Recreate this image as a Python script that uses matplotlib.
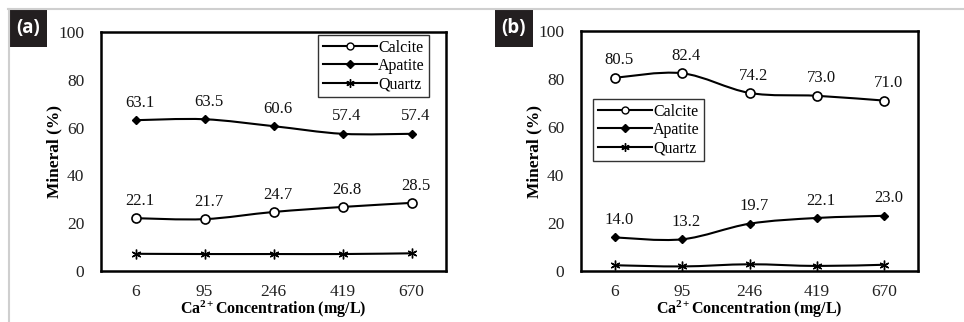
import numpy as np
import matplotlib
matplotlib.use("Agg")
import matplotlib.pyplot as plt
from matplotlib.path import Path
from matplotlib.patches import PathPatch, Rectangle
from matplotlib.lines import Line2D

# ---- data ----
categories = ["6", "95", "246", "419", "670"]
series_names = ["Calcite", "Apatite", "Quartz"]

a_calcite = [22.1, 21.7, 24.7, 26.8, 28.5]
a_apatite = [63.1, 63.5, 60.6, 57.4, 57.4]
a_quartz = [7.2, 7.1, 7.1, 7.1, 7.4]

b_calcite = [80.5, 82.4, 74.2, 73.0, 71.0]
b_apatite = [14.0, 13.2, 19.7, 22.1, 23.0]
b_quartz = [2.4, 1.9, 2.8, 2.1, 2.6]

yticks = [0, 20, 40, 60, 80, 100]
panel_labels = ["(a)", "(b)"]

plt.rcParams["mathtext.fontset"] = "custom"
plt.rcParams["mathtext.rm"] = "Liberation Serif"
plt.rcParams["mathtext.it"] = "Liberation Serif:italic"
plt.rcParams["mathtext.bf"] = "Liberation Serif:bold"

W, H = 964, 322
fig = plt.figure(figsize=(W / 100, H / 100), dpi=100)
fig.patch.set_facecolor("white")

SERIF = ["Liberation Serif", "DejaVu Serif"]


def px_axes(l, t, r, b):
    return fig.add_axes([l / W, 1 - b / H, (r - l) / W, (b - t) / H])


def smooth_path(xs, ys):
    pts = np.column_stack([xs, ys]).astype(float)
    n = len(pts)
    ext = np.vstack([pts[0], pts, pts[-1]])
    verts = [pts[0]]
    codes = [Path.MOVETO]
    for i in range(n - 1):
        p0, p1, p2, p3 = ext[i], ext[i + 1], ext[i + 2], ext[i + 3]
        c1 = p1 + (p2 - p0) / 6.0
        c2 = p2 - (p3 - p1) / 6.0
        verts += [c1, c2, p2]
        codes += [Path.CURVE4] * 3
    return Path(verts, codes)


def draw_series(ax, vals, marker, mfc, ms, mew, label_vals=True):
    x = np.arange(len(vals))
    ax.add_patch(PathPatch(smooth_path(x, vals), fill=False, edgecolor="black",
                           lw=1.5, zorder=3))
    ax.plot(x, vals, linestyle="none", marker=marker, markerfacecolor=mfc,
            markeredgecolor="black", markersize=ms, markeredgewidth=mew, zorder=4)
    if label_vals:
        for xi, v in zip(x, vals):
            ax.annotate(f"{v:.1f}", (xi, v), xytext=(3, 12.5), textcoords="offset points",
                        ha="center", va="center", fontsize=12, family=SERIF,
                        color="#111111")


def setup(ax, loc_bbox):
    ax.set_xlim(-0.5, len(categories) - 0.5)
    ax.set_ylim(0, 100)
    ax.set_xticks(range(len(categories)))
    ax.set_xticklabels(categories)
    ax.set_yticks(yticks)
    ax.tick_params(length=0, labelsize=12.5, colors="#222222")
    ax.tick_params(axis="x", pad=9)
    ax.tick_params(axis="y", pad=12)
    for lab in ax.get_xticklabels() + ax.get_yticklabels():
        lab.set_family(SERIF)
    for sp in ax.spines.values():
        sp.set_linewidth(1.8)
        sp.set_color("black")
    ax.set_ylabel("Mineral (%)", fontsize=12.5, fontweight="bold", family=SERIF,
                  labelpad=-3)
    ax.set_xlabel(r"Ca$^{\mathbf{2+}}$Concentration (mg/L)", fontsize=11.5,
                  fontweight="bold", family=SERIF, labelpad=-0.5)
    handles = [
        Line2D([], [], color="black", lw=1.5, marker="o", markerfacecolor="white",
               markersize=5, markeredgewidth=1.0),
        Line2D([], [], color="black", lw=1.5, marker="D", markerfacecolor="black",
               markersize=4),
        Line2D([], [], color="black", lw=1.5, marker=(6, 2, 0), markersize=6,
               markeredgewidth=1.0),
    ]
    leg = ax.legend(handles, series_names, loc="upper left", bbox_to_anchor=loc_bbox,
                    bbox_transform=fig.transFigure, prop={"family": SERIF, "size": 11.5},
                    frameon=True, fancybox=False, edgecolor="#333333", framealpha=1,
                    handlelength=3.4, handletextpad=0.05, labelspacing=0.14,
                    borderpad=0.3, borderaxespad=0)
    leg.get_frame().set_linewidth(1.0)


# panel a
ax1 = px_axes(101, 32, 446, 271)
draw_series(ax1, a_calcite, "o", "white", 6.5, 1.2)
draw_series(ax1, a_apatite, "D", "black", 4.5, 1.0)
draw_series(ax1, a_quartz, (6, 2, 0), "black", 7, 1.0, label_vals=False)
setup(ax1, (318 / W, 1 - 35 / H))

# panel b
ax2 = px_axes(581, 31, 918, 271)
draw_series(ax2, b_calcite, "o", "white", 6.5, 1.2)
draw_series(ax2, b_apatite, "D", "black", 4.5, 1.0)
draw_series(ax2, b_quartz, (6, 2, 0), "black", 7, 1.0, label_vals=False)
setup(ax2, (593 / W, 1 - 99 / H))

# gray frame lines
fig.add_artist(Line2D([8 / W, 1], [1 - 9 / H, 1 - 9 / H], transform=fig.transFigure,
                      color="#cfcfcf", lw=1.5))
fig.add_artist(Line2D([9 / W, 9 / W], [0, 1 - 9 / H], transform=fig.transFigure,
                      color="#cfcfcf", lw=1.5))

# panel label boxes
for (l, r), lab in zip([(10, 47), (495, 533)], panel_labels):
    fig.add_artist(Rectangle((l / W, 1 - 47 / H), (r - l) / W, 37 / H,
                             transform=fig.transFigure, facecolor="#231f20",
                             edgecolor="none"))
    fig.text((l + r) / 2 / W, 1 - 28.5 / H, lab, color="white", fontsize=13.5,
             fontweight="bold", family=["Open Sans", "DejaVu Sans"],
             ha="center", va="center")

fig.savefig("out.png", dpi=100, facecolor="white")
